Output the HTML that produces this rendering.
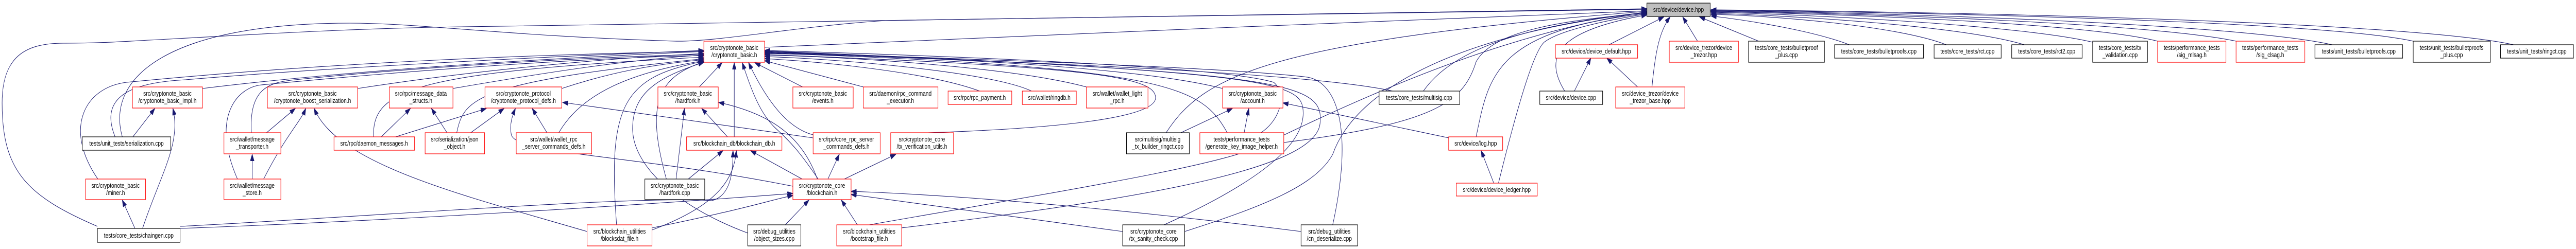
<!DOCTYPE html>
<html><head><meta charset="utf-8"><meta name="viewport" content="width=6108">
<style>
html,body{margin:0;padding:0;background:#fff;width:100%;height:100%;overflow:hidden}
svg{display:block;position:fixed;left:0;top:0;width:100vw;height:100vh;overflow:hidden}
text{font-family:"Liberation Sans",sans-serif;font-size:12.5px;fill:#000;text-anchor:middle}
.r{fill:#fff;stroke:#ff0000;stroke-width:1.2}
.b{fill:#fff;stroke:#000;stroke-width:1.2}
.e{fill:none;stroke:#191970;stroke-width:1.1;marker-end:url(#a)}
</style></head><body>
<svg viewBox="0 0 6108 484" preserveAspectRatio="none" xmlns="http://www.w3.org/2000/svg">
<defs><marker id="a" markerUnits="userSpaceOnUse" markerWidth="14" markerHeight="10" refX="13" refY="4.5" orient="auto"><path d="M0,0 L13,4.5 L0,9 z" fill="#191970" stroke="#191970"/></marker></defs>

<g>
<path class="e" d="M231,440 C60,380 5,330 5,200 C5,110 60,84 150,84 C250,84 300,80 400,76 C700,62 900,54 1100,52 C2000,42 3000,28 3905,18"/>
<path class="e" d="M290,266 C250,150 400,45 830,45 C1000,45 1200,70 1600,80 C1700,82 1900,50 2100,40 C3000,30 3500,22 3905,17"/>
<path class="e" d="M1813,92 C2400,70 3300,40 3905,21"/>
<path class="e" d="M2061,437 C2600,360 2900,320 3000,280 C3300,160 3600,60 3905,23"/>
<path class="e" d="M2809,450 C3000,400 3120,360 3160,300 C3220,160 3500,60 3905,24"/>
<path class="e" d="M2765,258 C2850,150 3000,80 3905,22"/>
<path class="e" d="M3044,277 C3400,240 3470,200 3500,120 C3540,60 3700,40 3905,25"/>
<path class="e" d="M3375,177 C3440,100 3600,50 3905,24"/>
<path class="e" d="M3500,266 C3530,150 3540,60 3905,26"/>
<path class="e" d="M3553,356 C3600,200 3640,90 3665,80 C3700,60 3800,40 3905,27"/>
<path class="e" d="M3710,177 C3660,110 3690,60 3905,29"/>
<path class="e" d="M3815,87 L3945,33"/>
<path class="e" d="M3917,169 C3925,100 3935,60 3960,33"/>
<path class="e" d="M4025,80 L3990,33"/>
<path class="e" d="M4170,80 L4030,33"/>
<path class="e" d="M4385,87 C4300,60 4150,40 4057,31"/>
<path class="e" d="M4615,87 C4500,50 4200,30 4057,28"/>
<path class="e" d="M4800,87 C4650,50 4250,30 4057,26"/>
<path class="e" d="M4962,82 C4800,50 4300,28 4057,24"/>
<path class="e" d="M5116,80 C4950,45 4350,26 4057,23"/>
<path class="e" d="M5302,80 C5100,45 4400,25 4057,22"/>
<path class="e" d="M5530,87 C5300,45 4450,24 4057,21"/>
<path class="e" d="M5722,80 C5500,40 4500,23 4057,20"/>
<path class="e" d="M5960,87 C5700,40 4550,22 4057,19"/>
</g>

<g>
<path class="e" d="M480,172 C900,130 1400,110 1669,100"/>
<path class="e" d="M848,172 C1100,140 1400,115 1669,104"/>
<path class="e" d="M1074,172 C1300,140 1500,115 1669,107"/>
<path class="e" d="M273,266 C230,180 330,160 440,155 C800,130 1300,110 1669,98"/>
<path class="e" d="M232,348 C150,250 200,170 300,160 C800,120 1300,105 1669,100"/>
<path class="e" d="M596,258 C590,170 640,160 700,155 C1000,130 1400,110 1669,106"/>
<path class="e" d="M563,348 C500,230 560,170 620,165 C1000,135 1400,112 1669,108"/>
<path class="e" d="M886,266 C880,170 1000,140 1669,111"/>
<path class="e" d="M1083,258 C1100,190 1130,160 1669,114"/>
<path class="e" d="M1332,172 C1450,140 1550,125 1669,116"/>
<path class="e" d="M1325,258 C1380,180 1500,140 1669,118"/>
<path class="e" d="M1462,437 C1440,200 1480,150 1669,119"/>
<path class="e" d="M1580,348 C1530,200 1560,150 1669,120"/>
<path class="e" d="M1773,453 C1600,400 1500,320 1500,250 C1500,180 1560,150 1669,121"/>
<path class="e" d="M1658,169 L1712,122"/>
<path class="e" d="M1741,266 L1741,122"/>
<path class="e" d="M1903,169 L1790,122"/>
<path class="e" d="M1940,348 C1900,300 1880,280 1840,250 C1800,220 1780,170 1760,122"/>
<path class="e" d="M1928,262 C1870,250 1820,200 1775,122"/>
<path class="e" d="M2047,169 L1813,118"/>
<path class="e" d="M2323,177 C2200,140 1950,120 1813,114"/>
<path class="e" d="M2446,177 C2350,140 2000,115 1813,110"/>
<path class="e" d="M2576,169 C2400,130 2000,110 1813,107"/>
<path class="e" d="M2899,172 C2700,130 2200,110 1813,104"/>
<path class="e" d="M2200,258 C2500,250 2740,230 2740,190 C2740,150 2600,130 1813,106"/>
<path class="e" d="M2910,258 C2850,170 2780,130 1813,103"/>
<path class="e" d="M3302,177 C3100,140 2400,120 1813,102"/>
<path class="e" d="M3160,437 C3210,250 3170,160 3100,150 C2900,130 2300,115 1813,101"/>
<path class="e" d="M2085,448 C2800,380 3120,320 3130,240 C3140,160 3060,140 1813,100"/>
<path class="e" d="M2760,437 C3050,330 3090,260 3090,220 C3090,160 3040,140 1813,99"/>
<path class="e" d="M2990,258 C3040,230 3050,180 3020,160 C2900,130 2300,110 1813,98"/>
</g>

<g>
<path class="e" d="M338,444 C380,340 430,280 410,211"/>
<path class="e" d="M315,266 L367,211"/>
<path class="e" d="M320,444 L290,389"/>
<path class="e" d="M427,440 C900,420 1500,380 1688,390 C1735,380 1738,330 1738,293"/>
<path class="e" d="M427,444 C900,430 1500,400 1880,376"/>
<path class="e" d="M632,258 L700,211"/>
<path class="e" d="M598,348 L598,300"/>
<path class="e" d="M625,348 C680,260 710,240 725,211"/>
<path class="e" d="M1392,450 C1100,380 800,320 745,211"/>
<path class="e" d="M904,266 L973,211"/>
<path class="e" d="M1060,258 L1023,211"/>
<path class="e" d="M938,266 L1153,211"/>
<path class="e" d="M1116,258 L1195,211"/>
<path class="e" d="M1297,258 L1262,211"/>
<path class="e" d="M1880,362 C1500,300 1215,300 1212,260 C1208,240 1215,225 1222,211"/>
<path class="e" d="M1928,268 L1334,199"/>
<path class="e" d="M1603,348 L1623,211"/>
<path class="e" d="M1725,266 L1664,211"/>
<path class="e" d="M1938,348 C1900,260 1820,220 1704,199"/>
<path class="e" d="M1632,348 L1714,293"/>
<path class="e" d="M1546,447 C1700,400 1740,350 1746,293"/>
<path class="e" d="M1546,443 C1800,400 1820,390 1880,380"/>
<path class="e" d="M1902,348 L1780,293"/>
<path class="e" d="M1963,348 L1990,300"/>
<path class="e" d="M2002,348 L2124,300"/>
<path class="e" d="M1862,437 L1918,389"/>
<path class="e" d="M2033,437 L1995,389"/>
<path class="e" d="M2662,450 L2018,378"/>
<path class="e" d="M3085,450 C2700,410 2300,380 2018,372"/>
<path class="e" d="M2800,258 L2922,211"/>
<path class="e" d="M2950,258 L2961,211"/>
<path class="e" d="M3435,268 L3042,200"/>
<path class="e" d="M3542,356 L3512,293"/>
<path class="e" d="M3733,177 L3772,113"/>
<path class="e" d="M3883,169 L3810,113"/>
</g>

<g>
<rect class="b" x="3905" y="6" width="150" height="26" style="fill:#bfbfbf;stroke:#000"/><text x="3980" y="23">src/device/device.hpp</text>

<rect class="r" x="314" y="169" width="166" height="41"/><text x="397" y="186">src/cryptonote_basic</text><text x="397" y="200">/cryptonote_basic_impl.h</text>
<rect class="r" x="634" y="169" width="214" height="41"/><text x="741" y="186">src/cryptonote_basic</text><text x="741" y="200">/cryptonote_boost_serialization.h</text>
<rect class="r" x="923" y="169" width="151" height="41"/><text x="998" y="186">src/rpc/message_data</text><text x="998" y="200">_structs.h</text>
<rect class="b" x="195" y="266" width="210" height="26"/><text x="300" y="283">tests/unit_tests/serialization.cpp</text>
<rect class="r" x="531" y="258" width="135" height="41"/><text x="598" y="275">src/wallet/message</text><text x="598" y="289">_transporter.h</text>
<rect class="r" x="792" y="266" width="191" height="26"/><text x="887" y="283">src/rpc/daemon_messages.h</text>
<rect class="r" x="1008" y="258" width="141" height="41"/><text x="1078" y="275">src/serialization/json</text><text x="1078" y="289">_object.h</text>
<rect class="r" x="203" y="348" width="142" height="40"/><text x="274" y="365">src/cryptonote_basic</text><text x="274" y="379">/miner.h</text>
<rect class="r" x="531" y="348" width="135" height="40"/><text x="598" y="365">src/wallet/message</text><text x="598" y="379">_store.h</text>
<rect class="b" x="231" y="444" width="196" height="27"/><text x="329" y="462">tests/core_tests/chaingen.cpp</text>

<rect class="r" x="1669" y="80" width="144" height="41"/><text x="1741" y="97">src/cryptonote_basic</text><text x="1741" y="111">/cryptonote_basic.h</text>
<rect class="r" x="1150" y="169" width="182" height="41"/><text x="1241" y="186">src/cryptonote_protocol</text><text x="1241" y="200">/cryptonote_protocol_defs.h</text>
<rect class="r" x="1560" y="169" width="143" height="41"/><text x="1631" y="186">src/cryptonote_basic</text><text x="1631" y="200">/hardfork.h</text>
<rect class="r" x="1880" y="169" width="143" height="41"/><text x="1951" y="186">src/cryptonote_basic</text><text x="1951" y="200">/events.h</text>
<rect class="r" x="1224" y="258" width="179" height="41"/><text x="1313" y="275">src/wallet/wallet_rpc</text><text x="1313" y="289">_server_commands_defs.h</text>
<rect class="r" x="1628" y="266" width="226" height="26"/><text x="1741" y="283">src/blockchain_db/blockchain_db.h</text>
<rect class="r" x="1928" y="258" width="159" height="41"/><text x="2007" y="275">src/rpc/core_rpc_server</text><text x="2007" y="289">_commands_defs.h</text>
<rect class="b" x="1529" y="348" width="142" height="40"/><text x="1600" y="365">src/cryptonote_basic</text><text x="1600" y="379">/hardfork.cpp</text>
<rect class="r" x="1880" y="348" width="138" height="40"/><text x="1949" y="365">src/cryptonote_core</text><text x="1949" y="379">/blockchain.h</text>
<rect class="r" x="1392" y="437" width="154" height="41"/><text x="1469" y="454">src/blockchain_utilities</text><text x="1469" y="468">/blocksdat_file.h</text>
<rect class="b" x="1773" y="437" width="126" height="41"/><text x="1836" y="454">src/debug_utilities</text><text x="1836" y="468">/object_sizes.cpp</text>
<rect class="r" x="1984" y="437" width="154" height="41"/><text x="2061" y="454">src/blockchain_utilities</text><text x="2061" y="468">/bootstrap_file.h</text>

<rect class="r" x="2047" y="169" width="177" height="41"/><text x="2135" y="186">src/daemon/rpc_command</text><text x="2135" y="200">_executor.h</text>
<rect class="r" x="2248" y="177" width="151" height="26"/><text x="2323" y="194">src/rpc/rpc_payment.h</text>
<rect class="r" x="2424" y="177" width="128" height="26"/><text x="2488" y="194">src/wallet/ringdb.h</text>
<rect class="r" x="2576" y="169" width="146" height="41"/><text x="2649" y="186">src/wallet/wallet_light</text><text x="2649" y="200">_rpc.h</text>
<rect class="r" x="2899" y="169" width="143" height="41"/><text x="2970" y="186">src/cryptonote_basic</text><text x="2970" y="200">/account.h</text>
<rect class="r" x="2112" y="258" width="149" height="41"/><text x="2186" y="275">src/cryptonote_core</text><text x="2186" y="289">/tx_verification_utils.h</text>
<rect class="b" x="2671" y="258" width="149" height="41"/><text x="2745" y="275">src/multisig/multisig</text><text x="2745" y="289">_tx_builder_ringct.cpp</text>
<rect class="r" x="2845" y="258" width="199" height="41"/><text x="2944" y="275">tests/performance_tests</text><text x="2944" y="289">/generate_key_image_helper.h</text>
<rect class="b" x="2662" y="437" width="147" height="41"/><text x="2735" y="454">src/cryptonote_core</text><text x="2735" y="468">/tx_sanity_check.cpp</text>

<rect class="b" x="3270" y="177" width="191" height="26"/><text x="3365" y="194">tests/core_tests/multisig.cpp</text>
<rect class="r" x="3688" y="87" width="195" height="26"/><text x="3785" y="104">src/device/device_default.hpp</text>
<rect class="r" x="3958" y="80" width="164" height="41"/><text x="4040" y="97">src/device_trezor/device</text><text x="4040" y="111">_trezor.hpp</text>
<rect class="b" x="3651" y="177" width="149" height="26"/><text x="3725" y="194">src/device/device.cpp</text>
<rect class="r" x="3831" y="169" width="164" height="41"/><text x="3913" y="186">src/device_trezor/device</text><text x="3913" y="200">_trezor_base.hpp</text>
<rect class="r" x="3435" y="266" width="128" height="26"/><text x="3499" y="283">src/device/log.hpp</text>
<rect class="r" x="3453" y="356" width="192" height="25"/><text x="3549" y="373">src/device/device_ledger.hpp</text>
<rect class="b" x="3085" y="437" width="134" height="41"/><text x="3152" y="454">src/debug_utilities</text><text x="3152" y="468">/cn_deserialize.cpp</text>

<rect class="b" x="4146" y="80" width="180" height="41"/><text x="4236" y="97">tests/core_tests/bulletproof</text><text x="4236" y="111">_plus.cpp</text>
<rect class="b" x="4350" y="87" width="211" height="26"/><text x="4455" y="104">tests/core_tests/bulletproofs.cpp</text>
<rect class="b" x="4586" y="87" width="159" height="26"/><text x="4665" y="104">tests/core_tests/rct.cpp</text>
<rect class="b" x="4770" y="87" width="167" height="26"/><text x="4853" y="104">tests/core_tests/rct2.cpp</text>
<rect class="b" x="4962" y="80" width="130" height="41"/><text x="5027" y="97">tests/core_tests/tx</text><text x="5027" y="111">_validation.cpp</text>
<rect class="r" x="5116" y="80" width="162" height="41"/><text x="5197" y="97">tests/performance_tests</text><text x="5197" y="111">/sig_mlsag.h</text>
<rect class="r" x="5302" y="80" width="163" height="41"/><text x="5383" y="97">tests/performance_tests</text><text x="5383" y="111">/sig_clsag.h</text>
<rect class="b" x="5489" y="87" width="208" height="26"/><text x="5593" y="104">tests/unit_tests/bulletproofs.cpp</text>
<rect class="b" x="5722" y="80" width="183" height="41"/><text x="5813" y="97">tests/unit_tests/bulletproofs</text><text x="5813" y="111">_plus.cpp</text>
<rect class="b" x="5929" y="87" width="173" height="26"/><text x="6015" y="104">tests/unit_tests/ringct.cpp</text>
</g>
</svg>
</body></html>
